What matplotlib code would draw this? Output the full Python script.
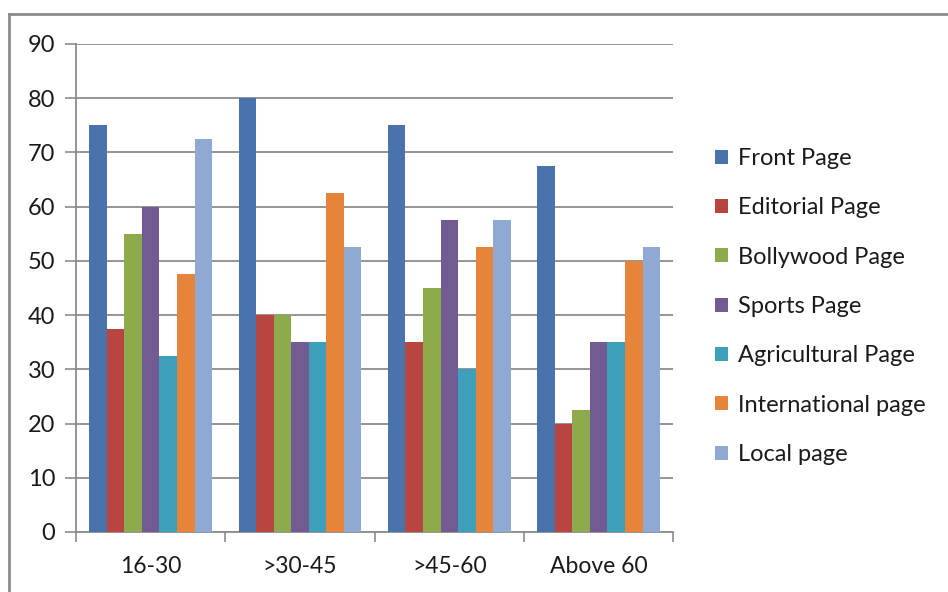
import matplotlib.pyplot as plt
import numpy as np

plt.rcParams['font.family'] = ['Lato', 'DejaVu Sans']

groups = ['16-30', '>30-45', '>45-60', 'Above 60']
series = ['Front Page', 'Editorial Page', 'Bollywood Page', 'Sports Page',
          'Agricultural Page', 'International page', 'Local page']
front = [75, 80, 75, 67.5]
editorial = [37.5, 40, 35, 20]
bollywood = [55, 40, 45, 22.5]
sports = [60, 35, 57.5, 35]
agricultural = [32.5, 35, 30, 35]
international = [47.5, 62.5, 52.5, 50]
local = [72.5, 52.5, 57.5, 52.5]
values = [front, editorial, bollywood, sports, agricultural, international, local]
colors = ['#4A73AE', '#B8453F', '#8DAA4C', '#725A93', '#3E9FBA', '#E5843A', '#8FA9D3']

fig = plt.figure(figsize=(9.48, 5.92), dpi=100)
ax = fig.add_axes([0.0802, 0.1014, 0.630, 0.8243])

x = np.arange(len(groups))
n = len(series)
w = 1 / (n + 1.5)
for i, (name, vals) in enumerate(zip(series, values)):
    ax.bar(x + (i - (n - 1) / 2) * w, vals, w, color=colors[i], label=name, zorder=3)

ax.set_xlim(-0.5, len(groups) - 0.5)
ax.set_ylim(0, 90)
ax.set_yticks(np.arange(0, 91, 10))
ax.yaxis.grid(True, color='#8c8c8c', linewidth=1.3, zorder=0)
ax.set_xticks(x)
ax.set_xticklabels(groups)
ax.set_xticks(np.arange(-0.5, len(groups)), minor=True)
ax.tick_params(axis='x', which='major', length=0, pad=17, labelsize=16.5, colors='#1a1a1a')
ax.tick_params(axis='x', which='minor', length=7, width=1.2, color='#8c8c8c')
ax.tick_params(axis='y', length=8, width=1.2, color='#8c8c8c', pad=7, labelsize=17, labelcolor='#1a1a1a')
for s in ['top', 'right']:
    ax.spines[s].set_visible(False)
for s in ['left', 'bottom']:
    ax.spines[s].set_color('#8c8c8c')
    ax.spines[s].set_linewidth(1.3)

leg = ax.legend(loc='center left', bbox_to_anchor=(1.035, 0.462), frameon=False,
                fontsize=17, handlelength=0.55, handleheight=0.55, handletextpad=0.4,
                labelspacing=1.2)
for t in leg.get_texts():
    t.set_color('#1a1a1a')

# chart-area border (top and left edges)
fig.add_artist(plt.Line2D([0.0095, 1.0], [0.977, 0.977], color='#8c8c8c', linewidth=2))
fig.add_artist(plt.Line2D([0.0095, 0.0095], [0.0, 0.977], color='#8c8c8c', linewidth=2))

fig.savefig('out.png', dpi=100)
